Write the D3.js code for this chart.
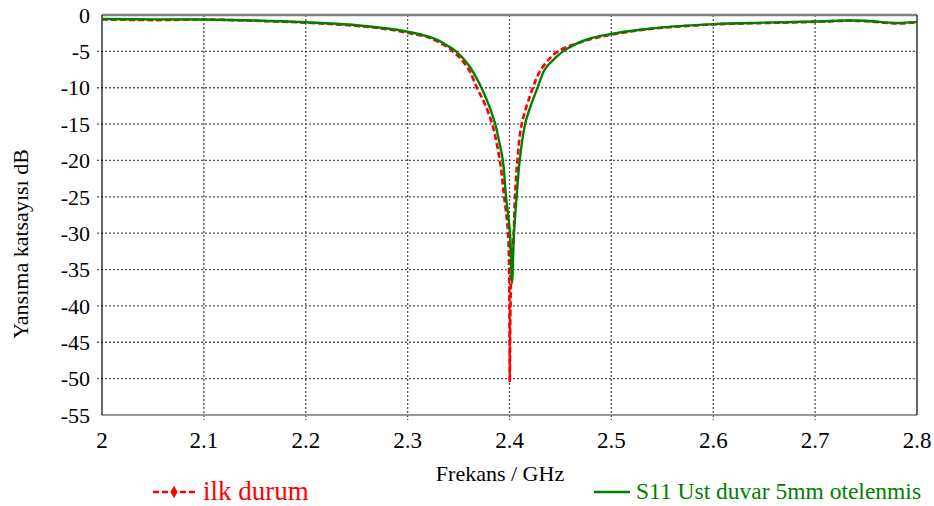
<!DOCTYPE html>
<html lang="en">
<head>
    <meta charset="UTF-8">
    <title>Yansima katsayisi</title>
    <script src="https://d3js.org/d3.v7.min.js"></script>
    <style>
        body {
            margin: 0;
            padding: 0;
            background: #fff;
        }
        svg text {
            font-family: "Liberation Serif", "DejaVu Serif", "Times New Roman", serif;
        }
    </style>
</head>
<body>
    <div id="chart"></div>

    <script>
        // ilk durum (red dashed)
        const ilkFreq = [2.00, 2.05, 2.10, 2.15, 2.20, 2.25, 2.28, 2.30, 2.32, 2.33, 2.34, 2.3445, 2.35, 2.36,
            2.368, 2.375, 2.383, 2.3905, 2.3948, 2.3986, 2.3998, 2.4003, 2.4010, 2.4025, 2.4041, 2.4054, 2.4078,
            2.412, 2.423, 2.43, 2.44, 2.4476, 2.46, 2.48, 2.50, 2.53, 2.55, 2.60, 2.65, 2.70, 2.73, 2.75, 2.78, 2.80];
        const ilkDb = [-0.6, -0.7, -0.62, -0.8, -1.05, -1.5, -1.95, -2.45, -3.05, -3.7, -4.5, -5, -5.7, -7.5,
            -10, -12, -15, -20, -25, -30, -38, -50.5, -40, -33, -30, -25, -20,
            -15, -10, -7.7, -5.9, -5, -4.2, -3.3, -2.7, -2.05, -1.75, -1.3, -1.1, -0.95, -0.8, -0.85, -1.15, -1.0];

        // S11 Ust duvar 5mm otelenmis (green)
        const s11Freq = [2.00, 2.05, 2.10, 2.15, 2.20, 2.25, 2.28, 2.30, 2.32, 2.33, 2.34, 2.3475, 2.36, 2.37,
            2.375, 2.38, 2.386, 2.39, 2.3935, 2.3966, 2.4005, 2.4025, 2.4044, 2.407, 2.41, 2.4153, 2.42, 2.4275,
            2.435, 2.445, 2.4525, 2.465, 2.48, 2.50, 2.53, 2.55, 2.60, 2.65, 2.70, 2.73, 2.75, 2.78, 2.80];
        const s11Db = [-0.55, -0.6, -0.62, -0.75, -1.0, -1.4, -1.85, -2.3, -2.95, -3.5, -4.3, -5, -6.9, -9.3,
            -10.8, -12.5, -15, -17.5, -20, -25, -30, -36.8, -30, -25, -20, -15, -12.8, -10,
            -7.4, -5.9, -5, -4.0, -3.2, -2.6, -2.0, -1.7, -1.25, -1.05, -0.9, -0.75, -0.8, -1.1, -0.95];

        const xTicks = [2, 2.1, 2.2, 2.3, 2.4, 2.5, 2.6, 2.7, 2.8];
        const yTicks = [0, -5, -10, -15, -20, -25, -30, -35, -40, -45, -50, -55];

        const width = 934, height = 506;
        const margin = { top: 15, right: 17, bottom: 91, left: 102 };
        const plotW = width - margin.left - margin.right;
        const plotH = height - margin.top - margin.bottom;

        const svg = d3.select("#chart")
            .append("svg")
            .attr("width", width)
            .attr("height", height);

        const g = svg.append("g")
            .attr("transform", `translate(${margin.left},${margin.top})`);

        const x = d3.scaleLinear().domain([2, 2.8]).range([0, plotW]);
        const y = d3.scaleLinear().domain([-55, 0]).range([plotH, 0]);

        // grid
        g.selectAll(".vgrid")
            .data(xTicks.slice(1, -1))
            .enter()
            .append("line")
            .attr("x1", d => x(d)).attr("x2", d => x(d))
            .attr("y1", 0).attr("y2", plotH + 5)
            .attr("stroke", "#555")
            .attr("stroke-width", 1.3)
            .attr("stroke-dasharray", "2,2");

        g.selectAll(".hgrid")
            .data(yTicks.slice(1, -1))
            .enter()
            .append("line")
            .attr("x1", -5).attr("x2", plotW)
            .attr("y1", d => y(d)).attr("y2", d => y(d))
            .attr("stroke", "#555")
            .attr("stroke-width", 1.3)
            .attr("stroke-dasharray", "2,2");

        // frame
        g.append("line").attr("x1", 0).attr("x2", plotW).attr("y1", 0).attr("y2", 0)
            .attr("stroke", "#808080").attr("stroke-width", 2.5);
        g.append("line").attr("x1", 0).attr("x2", plotW).attr("y1", plotH).attr("y2", plotH)
            .attr("stroke", "#777").attr("stroke-width", 1.5);
        g.append("line").attr("x1", 0).attr("x2", 0).attr("y1", 0).attr("y2", plotH)
            .attr("stroke", "#000").attr("stroke-width", 1.2);
        g.append("line").attr("x1", plotW).attr("x2", plotW).attr("y1", 0).attr("y2", plotH)
            .attr("stroke", "#000").attr("stroke-width", 1.2);

        // tick labels
        g.selectAll(".xlab")
            .data(xTicks)
            .enter()
            .append("text")
            .attr("x", d => x(d))
            .attr("y", plotH + 33)
            .attr("text-anchor", "middle")
            .attr("font-size", 23)
            .attr("fill", "#000")
            .text(d => d3.format(".1~f")(d));

        g.selectAll(".ylab")
            .data(yTicks)
            .enter()
            .append("text")
            .attr("x", -12)
            .attr("y", d => y(d))
            .attr("dy", "0.35em")
            .attr("text-anchor", "end")
            .attr("font-size", 22)
            .attr("fill", "#000")
            .text(d => d);

        // curves
        const line = d3.line()
            .x(d => x(d[0]))
            .y(d => y(d[1]))
            .curve(d3.curveCatmullRom.alpha(0.5));

        svg.append("clipPath").attr("id", "clip")
            .append("rect").attr("x", 0).attr("y", -2).attr("width", plotW).attr("height", plotH + 2);

        g.append("path")
            .datum(ilkFreq.map((f, i) => [f, ilkDb[i]]))
            .attr("d", line)
            .attr("fill", "none")
            .attr("stroke", "#ff0000")
            .attr("stroke-width", 2.6)
            .attr("stroke-dasharray", "6,3")
            .attr("clip-path", "url(#clip)");

        g.append("path")
            .datum(s11Freq.map((f, i) => [f, s11Db[i]]))
            .attr("d", line)
            .attr("fill", "none")
            .attr("stroke", "#008000")
            .attr("stroke-width", 2.4)
            .attr("clip-path", "url(#clip)");

        // axis titles
        svg.append("text")
            .attr("x", 500)
            .attr("y", 481)
            .attr("text-anchor", "middle")
            .attr("font-size", 22)
            .text("Frekans / GHz");

        svg.append("text")
            .attr("transform", "translate(28,244) rotate(-90)")
            .attr("text-anchor", "middle")
            .attr("font-size", 22)
            .text("Yansıma katsayısı dB");

        // legend
        const leg1 = svg.append("g").attr("transform", "translate(153,492)");
        leg1.append("line").attr("x1", 0).attr("x2", 42).attr("y1", 0).attr("y2", 0)
            .attr("stroke", "#ff0000").attr("stroke-width", 2.6).attr("stroke-dasharray", "6,3");
        leg1.append("path").attr("d", d3.symbol(d3.symbolDiamond, 45)())
            .attr("transform", "translate(21,0)").attr("fill", "#ff0000");
        leg1.append("text").attr("x", 50).attr("y", 8)
            .attr("font-size", 27).attr("fill", "#ff0000").text("ilk durum");

        const leg2 = svg.append("g").attr("transform", "translate(594,492)");
        leg2.append("line").attr("x1", 0).attr("x2", 36).attr("y1", 0).attr("y2", 0)
            .attr("stroke", "#008000").attr("stroke-width", 2.4);
        leg2.append("text").attr("x", 42).attr("y", 7)
            .attr("font-size", 23.5).attr("fill", "#008000").text("S11 Ust duvar 5mm otelenmis");
    </script>
</body>
</html>
